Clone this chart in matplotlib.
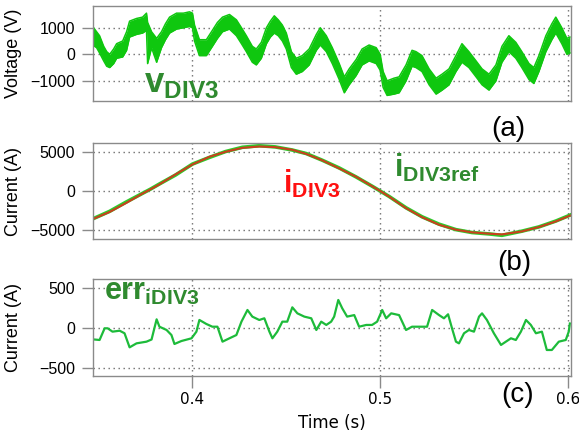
import matplotlib
matplotlib.use("Agg")
import matplotlib.pyplot as plt

plt.rcParams["mathtext.fontset"] = "custom"
plt.rcParams["mathtext.rm"] = "Liberation Sans"
plt.rcParams["mathtext.bf"] = "Liberation Sans:bold"
plt.rcParams["font.family"] = ["Liberation Sans", "DejaVu Sans"]

# ---- (a) converter voltage: ripple envelope (upper / lower) ----
t_v = [0.3468, 0.3489, 0.3505, 0.3527, 0.3543, 0.3559, 0.3580, 0.3596, 0.3628, 0.3649,
       0.3665, 0.3702, 0.3734, 0.3755, 0.3761, 0.3782, 0.3809, 0.3835, 0.3856, 0.3878,
       0.3915, 0.3952, 0.3984, 0.4000, 0.4011, 0.4037, 0.4074, 0.4106, 0.4133, 0.4160,
       0.4197, 0.4234, 0.4261, 0.4287, 0.4319, 0.4340, 0.4367, 0.4394, 0.4415, 0.4436,
       0.4457, 0.4479, 0.4500, 0.4527, 0.4553, 0.4585, 0.4622, 0.4660, 0.4681, 0.4713,
       0.4745, 0.4782, 0.4809, 0.4835, 0.4872, 0.4904, 0.4941, 0.4979, 0.5000, 0.5016,
       0.5037, 0.5074, 0.5101, 0.5138, 0.5170, 0.5191, 0.5223, 0.5261, 0.5298, 0.5330,
       0.5367, 0.5404, 0.5436, 0.5473, 0.5511, 0.5543, 0.5580, 0.5617, 0.5649, 0.5686,
       0.5723, 0.5755, 0.5793, 0.5819, 0.5846, 0.5883, 0.5915, 0.5936, 0.5968, 0.5995,
       0.6011]
v_hi = [1050, 850, 700, 300, 100, 0, 200, 400, 500, 850,
        1250, 1350, 1400, 1550, 1200, 850, 600, 850, 1150, 1400,
        1550, 1550, 1600, 1550, 1100, 550, 550, 900, 1200, 1400,
        1500, 1300, 1000, 700, 300, 200, 450, 1000, 1250, 1450,
        1300, 1100, 800, 100, -150, -50, 200, 750, 1000, 700,
        250, -350, -850, -550, -200, 200, 350, 250, 0, -650,
        -1000, -900, -850, -400, 150, 100, -50, -550, -900, -750,
        -550, -50, 400, 100, -250, -550, -750, -400, 300, 700,
        450, 100, -350, -500, -50, 700, 1150, 1400, 1000, 600,
        650]
v_lo = [350, 250, 50, -250, -450, -500, -350, -150, -100, 150,
        650, 750, 800, 900, -350, 250, -300, 250, 550, 800,
        950, 1000, 1050, 1000, 500, -50, -50, 300, 600, 850,
        950, 700, 400, 100, -300, -400, -150, 400, 650, 800,
        700, 500, 200, -500, -750, -650, -400, 150, 350, 100,
        -350, -950, -1450, -1150, -800, -400, -250, -350, -600, -1250,
        -1550, -1500, -1450, -1000, -450, -500, -650, -1150, -1500, -1350,
        -1150, -650, -300, -500, -850, -1150, -1350, -1000, -300, 100,
        -150, -500, -950, -1100, -650, 100, 550, 800, 400, 0,
        50]

# ---- (b) phase current and its reference ----
t_i = [0.3468, 0.3559, 0.3644, 0.3734, 0.3777, 0.3824, 0.3910, 0.4000, 0.4090, 0.4176,
       0.4266, 0.4356, 0.4441, 0.4532, 0.4606, 0.4691, 0.4782, 0.4872, 0.4957, 0.5000,
       0.5048, 0.5138, 0.5223, 0.5314, 0.5404, 0.5489, 0.5580, 0.5649, 0.5755, 0.5846,
       0.5936, 0.6011]
i_act = [-3610, -2680, -1570, -330, 220, 850, 2130, 3400, 4380, 5020,
         5530, 5700, 5620, 5280, 4750, 3940, 2890, 1820, 620, 0,
         -720, -2200, -3350, -4330, -4960, -5300, -5470, -5560, -5180, -4620,
         -3900, -3150]
i_ref = [-3580, -2600, -1450, -300, 250, 900, 2050, 3450, 4300, 5050,
         5600, 5800, 5650, 5250, 4800, 3950, 2950, 1800, 620, 0,
         -700, -2150, -3300, -4250, -4950, -5320, -5500, -5680, -5150, -4600,
         -3850, -3100]

# ---- (c) current tracking error ----
t_e = [0.3468, 0.3505, 0.3532, 0.3548, 0.3574, 0.3612, 0.3638, 0.3665, 0.3702, 0.3755,
       0.3782, 0.3809, 0.3824, 0.3862, 0.3888, 0.3904, 0.3941, 0.3995, 0.4021, 0.4037,
       0.4074, 0.4106, 0.4133, 0.4160, 0.4197, 0.4234, 0.4261, 0.4293, 0.4319, 0.4356,
       0.4383, 0.4410, 0.4426, 0.4452, 0.4479, 0.4505, 0.4532, 0.4559, 0.4596, 0.4633,
       0.4660, 0.4686, 0.4713, 0.4739, 0.4755, 0.4777, 0.4798, 0.4824, 0.4862, 0.4888,
       0.4926, 0.4957, 0.4984, 0.5011, 0.5032, 0.5059, 0.5101, 0.5138, 0.5170, 0.5207,
       0.5250, 0.5277, 0.5314, 0.5340, 0.5362, 0.5383, 0.5404, 0.5420, 0.5447, 0.5473,
       0.5500, 0.5527, 0.5543, 0.5569, 0.5606, 0.5644, 0.5670, 0.5697, 0.5723, 0.5750,
       0.5777, 0.5803, 0.5830, 0.5862, 0.5888, 0.5915, 0.5952, 0.5989, 0.6005, 0.6011]
err = [-138, -146, 0, 0, -42, -30, -62, -238, -188, -167,
       -140, 112, 20, -21, -84, -196, -159, -125, -42, 104,
       54, 20, 20, -167, -125, -84, 83, 229, 146, 104,
       125, -42, -125, -42, 83, 83, 262, 187, 146, 125,
       -21, 83, 42, 83, 146, 354, 250, 146, 165, 20,
       42, 42, 83, 229, 125, 187, 165, -21, 20, 20,
       20, 229, 165, 125, 175, 0, -167, -188, -62, -21,
       -42, 146, 187, 104, -62, -208, -167, -125, -146, -42,
       104, 42, -62, -42, -271, -271, -167, -146, -42, 60]

x_ticks = [0.4, 0.5, 0.6]
x_tick_labels = ["0.4", "0.5", "0.6"]

W, H = 579, 434
fig = plt.figure(figsize=(W / 100, H / 100), dpi=100)

def px_rect(x0, y0, x1, y1):
    return [x0 / W, 1 - y1 / H, (x1 - x0) / W, (y1 - y0) / H]

ax_a = fig.add_axes(px_rect(93, 6, 571, 101))
ax_b = fig.add_axes(px_rect(93, 143, 571, 239))
ax_c = fig.add_axes(px_rect(93, 279, 571, 376))

frame = "#8a8a8a"
for ax in (ax_a, ax_b, ax_c):
    ax.set_xlim(0.347, 0.6017)
    ax.set_xticks(x_ticks)
    for s in ax.spines.values():
        s.set_color(frame)
        s.set_linewidth(1.0)
    ax.grid(True, linestyle=(0, (1, 2.6)), color="#6e6e6e", linewidth=1.0)
    ax.set_axisbelow(True)
    ax.tick_params(axis="y", direction="out", length=8, width=1.0, color=frame,
                   pad=5, labelsize=11.5)
    ax.tick_params(axis="x", direction="out", length=8.5, width=1.0, color=frame,
                   pad=3, labelsize=11, labelfontfamily="DejaVu Sans")

for ax in (ax_a, ax_b):
    ax.tick_params(axis="x", length=0, labelbottom=False)

# (a) voltage: switching ripple shown as the band between its envelopes
green_v = "#0fc70f"
ax_a.fill_between(t_v, v_lo, v_hi, color=green_v, linewidth=0)
ax_a.plot(t_v, v_hi, color=green_v, lw=1.1)
ax_a.plot(t_v, v_lo, color=green_v, lw=1.1)
ax_a.set_ylim(-1760, 1820)
ax_a.set_yticks([-1000, 0, 1000])
ax_a.set_ylabel("Voltage (V)", fontsize=13, labelpad=4)

# (b) current
ax_b.plot(t_i, i_ref, color="#2ccc2c", lw=2.6)
ax_b.plot(t_i, i_act, color="#c8401e", lw=1.5)
ax_b.set_ylim(-6150, 6150)
ax_b.set_yticks([-5000, 0, 5000])
ax_b.set_ylabel("Current (A)", fontsize=13, labelpad=4)

# (c) error
ax_c.plot(t_e, err, color="#1dbb3a", lw=1.6)
ax_c.set_ylim(-596, 616)
ax_c.set_yticks([-500, 0, 500])
ax_c.set_xticklabels(x_tick_labels)
ax_c.set_ylabel("Current (A)", fontsize=13, labelpad=4)
ax_c.set_xlabel("Time (s)", fontsize=12, family="DejaVu Sans", labelpad=5)

# align the three y labels
for ax in (ax_a, ax_b, ax_c):
    ax.yaxis.set_label_coords(-0.148, 0.5)

def ftext(x, y, s, **kw):
    fig.text(x / W, 1 - y / H, s, **kw)

dk_green = "#2f8a2f"
ftext(144, 92, r"$\mathbf{v}_{\mathbf{DIV3}}$", color=dk_green, fontsize=25, va="baseline")
ftext(283, 193, r"$\mathbf{i}_{\mathbf{DIV3}}$", color="#ff1010", fontsize=22, va="baseline")
ftext(394, 177, r"$\mathbf{i}_{\mathbf{DIV3ref}}$", color=dk_green, fontsize=22, va="baseline")
ftext(104, 300, r"$\mathbf{err}_{\mathbf{iDIV3}}$", color=dk_green, fontsize=22, va="baseline")

ftext(508, 136, "(a)", fontsize=20, ha="center", va="baseline")
ftext(514, 270, "(b)", fontsize=20, ha="center", va="baseline")
ftext(518, 402, "(c)", fontsize=20, ha="center", va="baseline")

fig.savefig("out.png", dpi=100)
